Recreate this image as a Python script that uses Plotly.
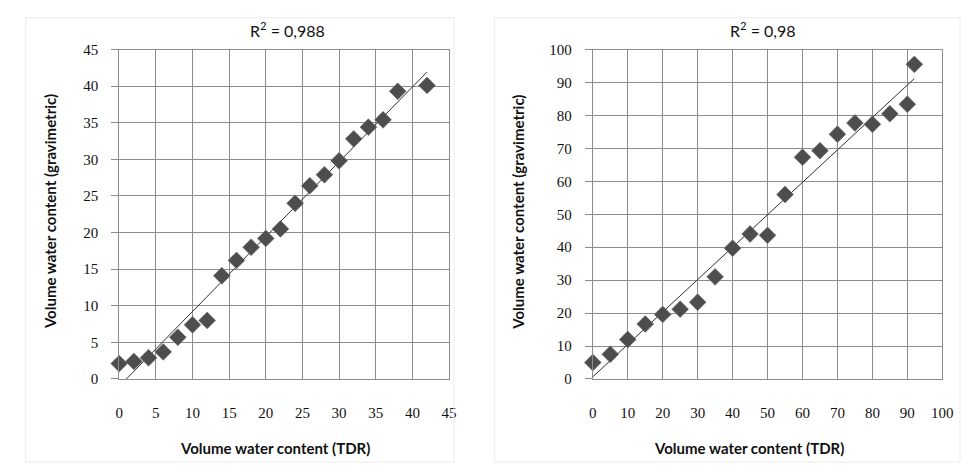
import numpy as np
import plotly.graph_objects as go

# ---- data ----
tdr_left = [0, 2, 4, 6, 8, 10, 12, 14, 16, 18, 20, 22, 24, 26, 28, 30, 32, 34, 36, 38, 42]
grav_left = [2.1, 2.4, 2.9, 3.7, 5.7, 7.4, 8.0, 14.1, 16.2, 18.0, 19.2, 20.5, 24.0, 26.4,
             27.9, 29.8, 32.8, 34.4, 35.4, 39.3, 40.1]
tdr_right = [0, 5, 10, 15, 20, 25, 30, 35, 40, 45, 50, 55, 60, 65, 70, 75, 80, 85, 90, 92]
grav_right = [5.0, 7.5, 12.0, 16.7, 19.6, 21.2, 23.3, 31.0, 39.7, 44.0, 43.6, 56.0, 67.3,
              69.3, 74.3, 77.7, 77.3, 80.5, 83.4, 95.5]
title_left = "R<sup>2</sup> = 0,988"
title_right = "R<sup>2</sup> = 0,98"
xtitle = "Volume water content (TDR)"
ytitle = "Volume water content (gravimetric)"
xticks_left = list(range(0, 50, 5))
yticks_left = list(range(0, 50, 5))
xticks_right = list(range(0, 110, 10))
yticks_right = list(range(0, 110, 10))

W, H = 973, 472


def px(x):
    return x / W


def py(y):
    return 1 - y / H


MARKER = "#4d4d4d"
GRID = "#8c8c8c"
TICKFONT = dict(family="Liberation Serif, Times New Roman, serif", size=15, color="#111111")
TXTFONT = "Lato, Open Sans, sans-serif"

fig = go.Figure()


def add_panel(xs, ys, xa, ya):
    xs = np.array(xs, float)
    ys = np.array(ys, float)
    m, b = np.polyfit(xs, ys, 1)
    lx = np.array([0.0, xs.max()])
    fig.add_trace(go.Scatter(x=lx, y=m * lx + b, mode="lines",
                             line=dict(color="#303030", width=1),
                             xaxis=xa, yaxis=ya, showlegend=False, hoverinfo="skip"))
    fig.add_trace(go.Scatter(x=xs, y=ys, mode="markers",
                             marker=dict(symbol="diamond", size=13, color=MARKER,
                                         line=dict(color="rgba(120,120,120,0.6)", width=1)),
                             xaxis=xa, yaxis=ya, showlegend=False, cliponaxis=False))


add_panel(tdr_left, grav_left, "x", "y")
add_panel(tdr_right, grav_right, "x2", "y2")

ydom = [py(384), py(43)]
common_x = dict(showgrid=True, gridcolor=GRID, gridwidth=1, zeroline=False,
                showline=True, linecolor=GRID, linewidth=1, mirror=True,
                ticks="", ticklabelstandoff=20, tickfont=TICKFONT)
common_y = dict(showgrid=True, gridcolor=GRID, gridwidth=1, zeroline=False,
                showline=True, linecolor=GRID, linewidth=1, mirror=True,
                ticks="outside", ticklen=7, tickcolor=GRID, ticklabelstandoff=10,
                tickfont=TICKFONT)


def ann(text, x, y, size, angle=0):
    return dict(text=text, x=px(x), y=py(y), xref="paper", yref="paper",
                xanchor="center", yanchor="middle",
                showarrow=False, textangle=angle,
                font=dict(family=TXTFONT, size=size, color="#111111"))


fig.update_layout(
    width=W, height=H, margin=dict(l=0, r=0, t=0, b=0),
    paper_bgcolor="white", plot_bgcolor="white",
    xaxis=dict(domain=[px(117), px(452)], range=[0, 45], tickvals=xticks_left,
               anchor="y", **common_x),
    yaxis=dict(domain=ydom, range=[0, 45], tickvals=yticks_left, anchor="x", **common_y),
    xaxis2=dict(domain=[px(598), px(953)], range=[0, 100], tickvals=xticks_right,
                anchor="y2", **common_x),
    yaxis2=dict(domain=ydom, range=[0, 100], tickvals=yticks_right, anchor="x2", **common_y),
    shapes=[
        dict(type="rect", xref="paper", yref="paper", x0=px(22), x1=px(457),
             y0=py(470), y1=py(10), line=dict(color="#ececec", width=1)),
        dict(type="rect", xref="paper", yref="paper", x0=px(498), x1=px(971),
             y0=py(470), y1=py(10), line=dict(color="#ececec", width=1)),
    ],
    annotations=[
        ann(title_left, 288, 22, 16),
        ann(title_right, 770, 22, 16),
        ann("<b>" + xtitle + "</b>", 275, 455, 15),
        ann("<b>" + xtitle + "</b>", 757, 455, 15),
        ann("<b>" + ytitle + "</b>", 47, 211, 15, -90),
        ann("<b>" + ytitle + "</b>", 522, 211, 15, -90),
    ],
)

fig.write_html(
    "out.html",
    config={"displayModeBar": False},
    post_script="document.body.style.margin='0';document.body.style.overflow='hidden';",
)
